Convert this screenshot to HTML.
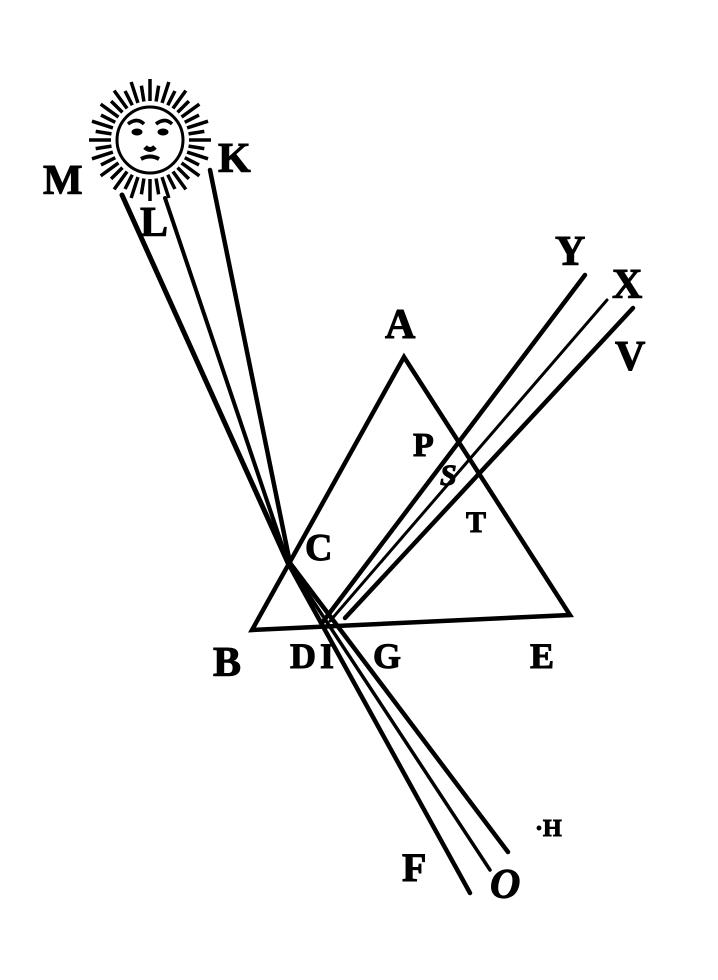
<!DOCTYPE html>
<html><head><meta charset="utf-8"><style>
html,body{margin:0;padding:0;background:#fff}
svg{display:block}
text{font-family:"Liberation Serif",serif;font-weight:bold;fill:#000;stroke:#000;stroke-width:1}
</style></head><body>
<svg width="718" height="980" viewBox="0 0 718 980">
<g stroke="#000" fill="none">
  <circle cx="150" cy="140" r="33" stroke-width="3"/>
  <g id="rays" stroke-width="3.5"></g>
  <path d="M128 124 q9 -7 16 0 M156 124 q9 -7 16 0" stroke-width="3.5"/>
  <ellipse cx="137" cy="132" rx="5" ry="3" fill="#000"/>
  <ellipse cx="163" cy="132" rx="5" ry="3" fill="#000"/>
  <path d="M145 147 q5 5 10 0" stroke-width="5"/>
  <path d="M141 159 q9 -5 18 0" stroke-width="4"/>
</g>
<g stroke="#000" stroke-linecap="round">
  <line x1="122" y1="195" x2="288" y2="563" stroke-width="5"/>
  <line x1="165" y1="198" x2="288" y2="563" stroke-width="4"/>
  <line x1="210" y1="170" x2="290" y2="563" stroke-width="4.5"/>
  <line x1="288" y1="563" x2="470" y2="893" stroke-width="4.5"/>
  <line x1="288" y1="563" x2="490" y2="870" stroke-width="3.5"/>
  <line x1="290" y1="563" x2="508" y2="852" stroke-width="4.5"/>
  <line x1="288" y1="563" x2="322" y2="623" stroke-width="3"/>
  <line x1="288" y1="563" x2="334" y2="622" stroke-width="3"/>
  <line x1="322" y1="623" x2="585" y2="275" stroke-width="4.5"/>
  <line x1="330" y1="621" x2="607" y2="300" stroke-width="3"/>
  <line x1="345" y1="618" x2="633" y2="308" stroke-width="4.5"/>
</g>
<polygon points="404,357 252,630 570,615" fill="none" stroke="#000" stroke-width="4.5" stroke-linejoin="miter"/>
<g font-size="42">
  <text x="43" y="194">M</text>
  <text x="140" y="236">L</text>
  <text x="218" y="172">K</text>
  <text x="555" y="265">Y</text>
  <text x="612" y="298">X</text>
  <text x="615" y="370">V</text>
  <text x="385" y="338">A</text>
  <text x="413" y="456" font-size="34">P</text>
  <text x="440" y="485" font-size="30" font-style="italic">S</text>
  <text x="466" y="532" font-size="30">T</text>
  <text x="305" y="560" font-size="38">C</text>
  <text x="213" y="676">B</text>
  <text x="290" y="668" font-size="36">D</text>
  <text x="320" y="668" font-size="36">I</text>
  <text x="373" y="668" font-size="36">G</text>
  <text x="530" y="668" font-size="36">E</text>
  <text x="402" y="881" font-size="40">F</text>
  <text x="490" y="898" font-size="42" font-style="italic">O</text>
  <text x="535" y="836" font-size="24">·H</text>
</g>
</svg>
<script>
var g=document.getElementById('rays');
for(var i=0;i<40;i++){var a=i/40*Math.PI*2;
var l=document.createElementNS('http://www.w3.org/2000/svg','line');


var r1=39,r2=(i%2?55:61);
l.setAttribute('x1',150+r1*Math.cos(a));l.setAttribute('y1',140+r1*Math.sin(a));
l.setAttribute('x2',150+r2*Math.cos(a));l.setAttribute('y2',140+r2*Math.sin(a));
g.appendChild(l);}
</script>
</body></html>
